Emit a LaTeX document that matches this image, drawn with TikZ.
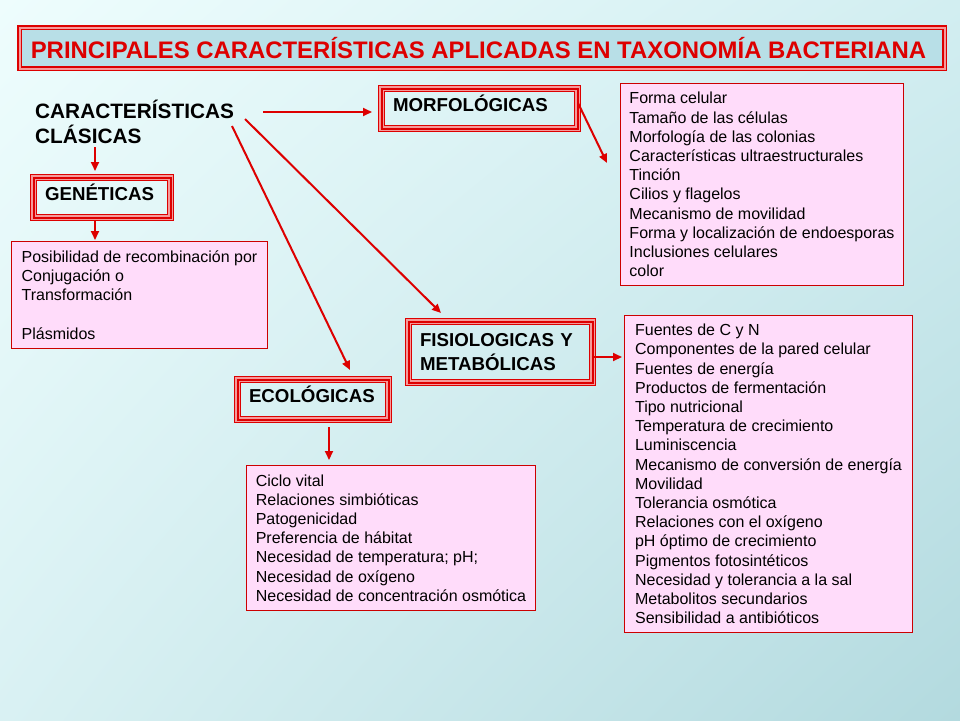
\documentclass[tikz,border=0pt]{standalone}
\usepackage{fontspec}
\setmainfont{Liberation Sans}
\usetikzlibrary{positioning,arrows.meta,calc,shadings}

\definecolor{fred}{HTML}{DD0000}
\definecolor{fpink}{HTML}{F59A9A}
\definecolor{lred}{HTML}{CC0000}
\definecolor{lpink}{HTML}{FFDCFA}
\definecolor{tblue}{HTML}{B8DFE7}
\definecolor{bgtl}{HTML}{EEFDFD}
\definecolor{bgtr}{HTML}{D2EEF1}
\definecolor{bgbl}{HTML}{D9F1F3}
\definecolor{bgbr}{HTML}{B3DADF}

\begin{document}
\begin{tikzpicture}[
    x=1pt, y=-1pt,
    font=\fontsize{16}{19.2}\selectfont,
    title/.style={
        draw=fred, line width=5pt,
        postaction={draw=fpink, line width=2pt},
        fill=tblue, text=fred,
        minimum width=925pt, minimum height=41pt,
        font=\fontsize{23.9}{28}\selectfont\bfseries
    },
    cat/.style={
        draw=fred, line width=7pt,
        postaction={draw=fpink, line width=4.5pt},
        postaction={draw=fred, line width=2pt},
        anchor=north west, align=left,
        inner xsep=11.5pt, inner ysep=0pt,
        font=\fontsize{18.7}{24}\selectfont\bfseries
    },
    onecat/.style={cat, text height=13.5pt, text depth=8pt},
    list/.style={
        draw=lred, fill=lpink, line width=1pt,
        anchor=north west, align=left, inner sep=0pt
    },
    arr/.style={-{Triangle[length=9pt,width=8pt]}, draw=fred, line width=2pt}
]

% ============================================================
% FONDO
% ============================================================
\shade[upper left=bgtl, upper right=bgtr, lower left=bgbl, lower right=bgbr]
    (0,0) rectangle (960,720);
\useasboundingbox (0,0) rectangle (960,720);

% ============================================================
% TITULO
% ============================================================
\node[title] (title) at (482,48)
    {PRINCIPALES CARACTERÍSTICAS APLICADAS EN TAXONOMÍA BACTERIANA\kern7pt};

\node[anchor=north west, align=left, inner sep=2pt,
      font=\fontsize{20.8}{25}\selectfont\bfseries] (clas) at (33,98)
    {CARACTERÍSTICAS\\CLÁSICAS};

% ============================================================
% CATEGORIAS
% ============================================================
\node[onecat, text width=173pt, minimum height=40pt] (morf) at (378,85) {MORFOLÓGICAS};
\node[onecat, text width=114pt, minimum height=40pt] (gen) at (30,174) {GENÉTICAS};
\node[cat, text width=161pt, minimum height=61pt] (fis) at (405,318) {FISIOLOGICAS Y\\METABÓLICAS};
\node[onecat, text width=128pt, minimum height=40pt] (eco) at (234,376) {ECOLÓGICAS};

% ============================================================
% LISTAS
% ============================================================
\node[list, minimum width=283pt, minimum height=202pt] (morflist) at (620,83)
    {Forma celular\\Tamaño de las células\\Morfología de las colonias\\
     Características ultraestructurales\\Tinción\\Cilios y flagelos\\
     Mecanismo de movilidad\\Forma y localización de endoesporas\\
     Inclusiones celulares\\color};
\node[list, minimum width=256pt, minimum height=107pt] (genlist) at (11,241)
    {Posibilidad de recombinación por\\Conjugación o\\Transformación\\[19.2pt]
     Plásmidos};
\node[list, minimum width=288pt, minimum height=317pt] (fislist) at (624,315)
    {Fuentes de C y N\\Componentes de la pared celular\\Fuentes de energía\\
     Productos de fermentación\\Tipo nutricional\\Temperatura de crecimiento\\
     Luminiscencia\\Mecanismo de conversión de energía\\Movilidad\\
     Tolerancia osmótica\\Relaciones con el oxígeno\\pH óptimo de crecimiento\\
     Pigmentos fotosintéticos\\Necesidad y tolerancia a la sal\\
     Metabolitos secundarios\\Sensibilidad a antibióticos};
\node[list, minimum width=289pt, minimum height=145pt] (ecolist) at (246,465)
    {Ciclo vital\\Relaciones simbióticas\\Patogenicidad\\Preferencia de hábitat\\
     Necesidad de temperatura; pH;\\Necesidad de oxígeno\\
     Necesidad de concentración osmótica};

% ============================================================
% FLECHAS
% ============================================================
\draw[arr] ($(clas.north west)+(230,14)$) -- ($(morf.north west)+(-6,27)$);
\draw[arr] ($(clas.north west)+(212,21)$) -- ($(fis.north west)+(36,-5)$);
\draw[arr] ($(clas.north west)+(199,28)$) -- ($(eco.north west)+(116,-6)$);
\draw[arr] ($(clas.north west)+(62,49)$) -- ($(gen.north west)+(65,-3)$);
\draw[arr] ($(gen.south west)+(65,0)$) -- ($(genlist.north west)+(84,-1)$);
\draw[arr] ($(morf.north east)+(-3,18)$) -- ($(morflist.north west)+(-13,80)$);
\draw[arr] ($(fis.north east)+(-3,39)$) -- ($(fislist.north west)+(-2,42)$);
\draw[arr] ($(eco.south west)+(95,4)$) -- ($(ecolist.north west)+(83,-5)$);

\end{tikzpicture}
\end{document}
